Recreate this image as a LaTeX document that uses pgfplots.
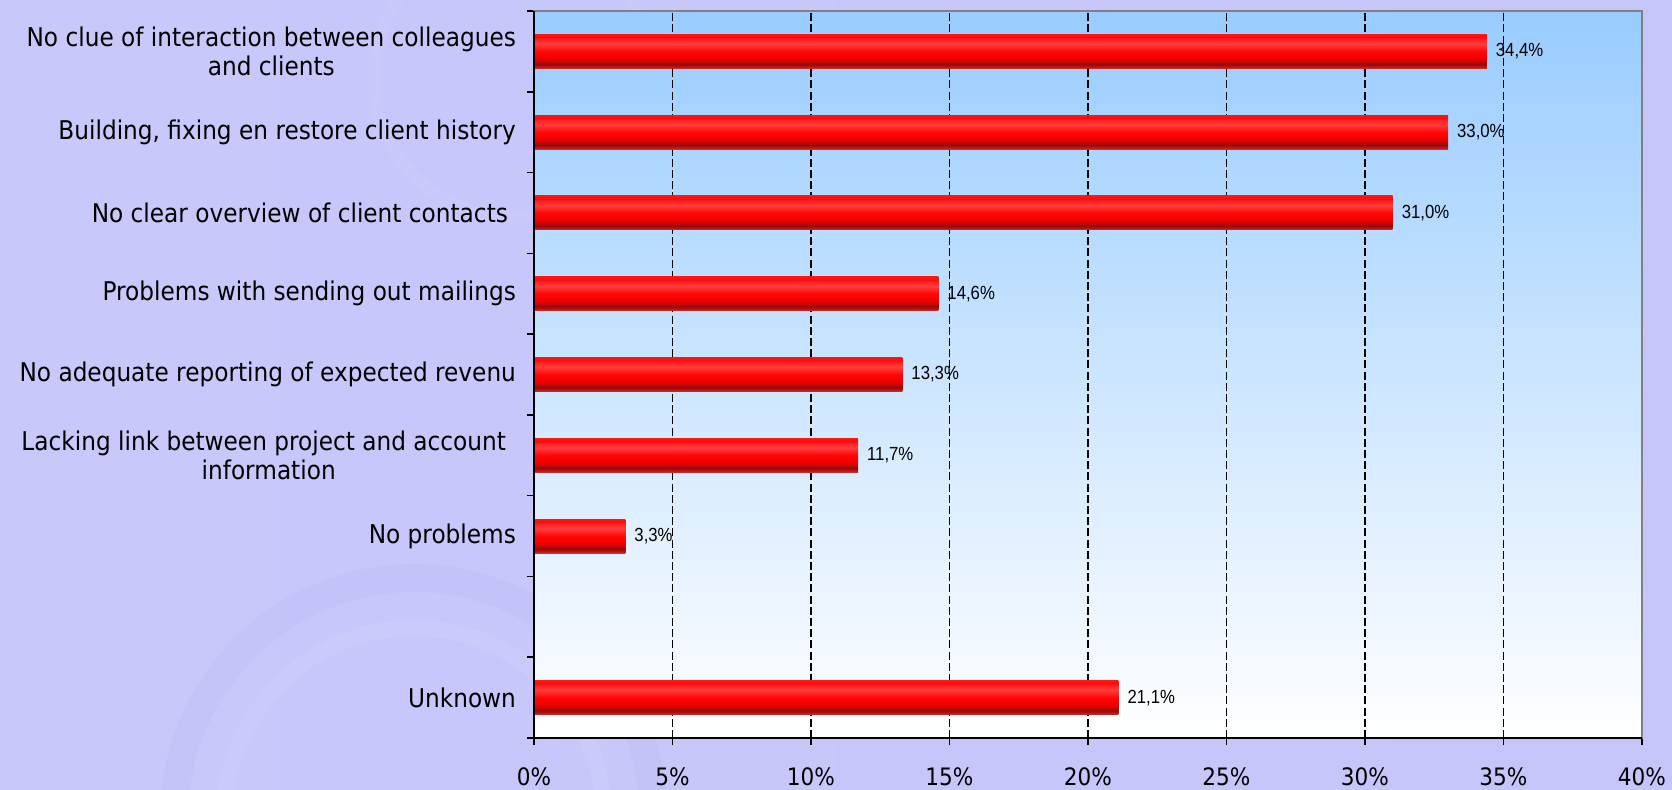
\documentclass[border=0pt]{standalone}
\usepackage{pgfplots}
\pgfplotsset{compat=1.18}
\usepackage{fontspec}
\setmainfont{DejaVu Sans}[FakeStretch=0.9]
\newfontfamily\valfont{Liberation Sans}[FakeStretch=0.88]

\definecolor{bgA}{RGB}{200,200,251}
\definecolor{bgB}{RGB}{190,190,246}
\definecolor{bgRing}{RGB}{206,206,252}
\definecolor{pTop}{RGB}{153,204,255}
\definecolor{pMid}{RGB}{214,233,255}
\definecolor{rb1}{RGB}{214,42,42}
\definecolor{rb2}{RGB}{176,21,21}
\definecolor{rb3}{RGB}{150,10,10}
\definecolor{rb4}{RGB}{196,8,8}
\definecolor{rb5}{RGB}{240,0,0}
\definecolor{rb6}{RGB}{255,6,6}
\definecolor{rb7}{RGB}{255,60,60}
\definecolor{rb8}{RGB}{255,44,44}
\definecolor{rb9}{RGB}{255,10,10}
\definecolor{rb10}{RGB}{255,20,20}
\definecolor{barend}{RGB}{120,0,0}

\pgfdeclareverticalshading{redbar}{100bp}{color(0bp)=(rb1); color(25bp)=(rb1); color(28bp)=(rb2); color(31bp)=(rb3); color(35bp)=(rb4); color(40bp)=(rb5); color(50bp)=(rb6); color(61bp)=(rb7); color(66bp)=(rb8); color(71bp)=(rb9); color(75bp)=(rb10); color(100bp)=(rb10)}

\pgfplotsset{onebar/.style={xbar, bar width=0.42, bar shift=0pt, draw=none, shade, shading=redbar}}

\begin{document}
\begin{tikzpicture}
\useasboundingbox (-267pt,-26pt) rectangle (569pt,369pt);
% page background (836pt x 395pt)
\shade[left color=bgA, right color=bgA!70!bgB] (-267pt,-26pt) rectangle (569pt,369pt);
\begin{scope}
\clip (-267pt,-26pt) rectangle (569pt,369pt);
\draw[bgRing, line width=8pt, opacity=0.6] (-60pt,-40pt) circle (95pt);
\draw[bgB, line width=14pt, opacity=0.35] (-60pt,-40pt) circle (120pt);
\draw[bgRing, line width=6pt, opacity=0.4] (-10pt,330pt) circle (70pt);
\end{scope}
\begin{axis}[
  at={(0pt,0pt)}, anchor=south west,
  scale only axis, width=554pt, height=363.5pt,
  xmin=0, xmax=40, ymin=0.5, ymax=9.5,
  axis background/.style={shade, top color=pTop, middle color=pMid, bottom color=white},
  axis line style={draw=gray, line width=0.8pt},
  tick align=outside,
  xtick pos=bottom, ytick pos=left,
  tick style={black, line width=0.8pt},
  major tick length=3.5pt,
  xtick={0,5,...,40},
  xticklabels={0\%,5\%,10\%,15\%,20\%,25\%,30\%,35\%,40\%},
  xticklabel style={font=\fontsize{12}{14}\selectfont, text=black},
  xticklabel shift=8pt,
  extra x ticks={5,10,...,35},
  extra x tick labels={},
  extra x tick style={grid=major, major tick length=0pt},
  major grid style={black, dash pattern=on 4pt off 1.6pt, line width=0.7pt},
  ytick={0.5,1.5,...,9.5},
  yticklabels={},
  extra y ticks={1,2,3,4,5,6,7,8,9},
  extra y tick labels={Unknown,{},No problems,{Lacking link between project and account\hspace*{5pt}\\information},No adequate reporting of expected revenu,Problems with sending out mailings,No clear overview of client contacts\hspace*{4pt},{Building, fixing en restore client history},{No clue of interaction between colleagues\\and clients}},
  extra y tick style={major tick length=0pt},
  yticklabel style={font=\fontsize{12.9}{14.5}\selectfont, align=center, text=black, xshift=-5.5pt},
  nodes near coords={\pgfmathprintnumber[fixed,fixed zerofill,precision=1,use comma,assume math mode=true]{\pgfplotspointmeta}\%},
  point meta=x,
  every node near coord/.append style={font=\valfont\fontsize{9.5}{11}\selectfont, text=black, anchor=west, xshift=1pt},
  clip=false,
]
\addplot[onebar] coordinates {(34.4,9)};
\addplot[onebar] coordinates {(33.0,8)};
\addplot[onebar] coordinates {(31.0,7)};
\addplot[onebar] coordinates {(14.6,6)};
\addplot[onebar] coordinates {(13.3,5)};
\addplot[onebar] coordinates {(11.7,4)};
\addplot[onebar] coordinates {(3.3,3)};
\addplot[onebar] coordinates {(21.1,1)};
\draw[black, line width=1pt] (rel axis cs:0,1) -- (rel axis cs:0,0) -- (rel axis cs:1,0);
\end{axis}
\end{tikzpicture}
\end{document}
